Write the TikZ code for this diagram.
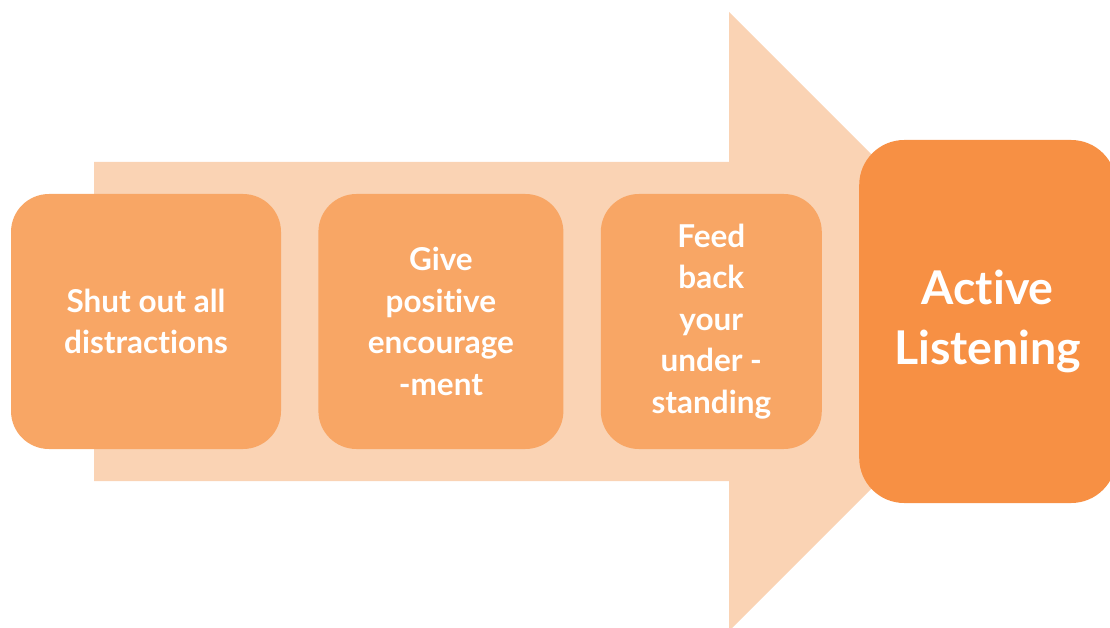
\documentclass[tikz,border=0pt]{standalone}
\usepackage{fontspec}
\setmainfont{Lato}[Ligatures={NoCommon,NoRare}]
\usepackage{xcolor}
\usetikzlibrary{positioning}
\definecolor{arrowpeach}{HTML}{FAD3B4}
\definecolor{stepfill}{HTML}{F8A665}
\definecolor{goalfill}{HTML}{F79044}

\begin{document}
\begin{tikzpicture}[x=1pt,y=-1pt,node distance=37pt,
  stepbox/.style={fill=stepfill,rounded corners=38pt,text=white,align=center,inner sep=0pt,
    minimum height=255pt,font=\bfseries\fontsize{31.5}{41.5}\selectfont},
  goalbox/.style={fill=goalfill,rounded corners=45pt,text=white,align=center,inner sep=0pt,
    minimum width=257pt,minimum height=363pt,font=\bfseries\fontsize{46.5}{60}\selectfont}]
  \useasboundingbox (0,0) rectangle (1110,628);
  % big arrow behind the steps
  \fill[arrowpeach] (94,162) -- (729,162) -- (729,12) -- (1039,321.5) -- (729,631) -- (729,481) -- (94,481) -- cycle;
  % steps
  \node[stepbox,minimum width=270pt] (shut) at (146,321.5) {Shut out all\\distractions};
  \node[stepbox,minimum width=245pt,right=of shut] (give) {Give\\positive\\encourage\\-ment};
  \node[stepbox,minimum width=221pt,right=of give] (feed) {Feed\\back\\your\\under -\\standing};
  % goal
  \node[goalbox,right=of feed] (active) {Active\\Listening};
\end{tikzpicture}
\end{document}
